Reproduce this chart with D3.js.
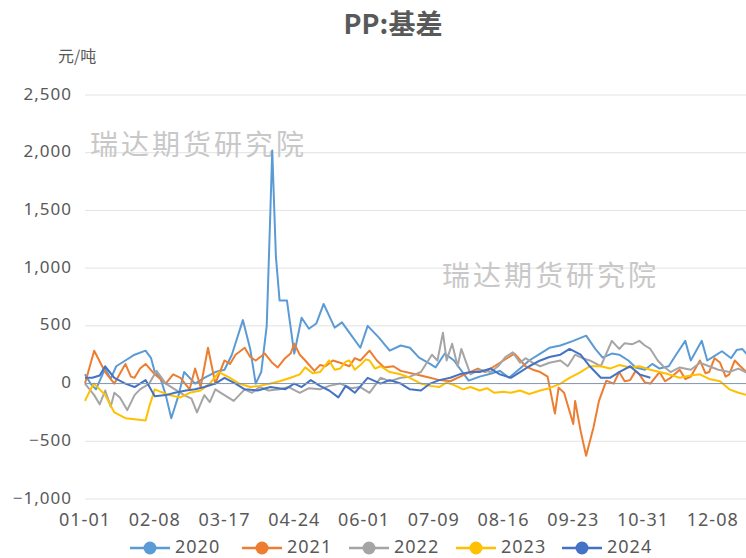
<!DOCTYPE html>
<html>
<head>
  <meta charset="utf-8">
  <script src="https://d3js.org/d3.v7.min.js"></script>
  <style>
    body {
      margin: 0;
      background: #ffffff;
      font-family: "Noto Sans CJK SC", "Noto Sans", sans-serif;
    }
    .grid line { stroke: #e3e3e3; stroke-width: 1; }
    .tick_label { fill: #595959; font-size: 17px; letter-spacing: 1px; font-family: "Noto Sans", sans-serif; }
    .watermark { fill: #c8c8c8; font-size: 28px; letter-spacing: 3px; }
  </style>
  <title>PP:基差</title>
</head>
<body>
  <svg></svg>
  <script>
    // day-of-year (leap-year calendar, 0 = 01-01) and basis value, yuan/ton
    const s2020 = [[0,80],[3,0],[6,-50],[9,60],[11,130],[14,40],[17,150],[22,200],[27,250],[33,285],[36,220],[38,100],[41,50],[44,-100],[47,-300],[51,-100],[54,100],[60,0],[65,50],[71,100],[76,120],[80,250],[86,550],[90,300],[93,0],[96,100],[99,500],[101,1500],[102,2020],[104,1100],[106,720],[110,720],[114,260],[118,570],[122,475],[126,520],[130,690],[136,485],[140,530],[145,420],[150,310],[154,500],[160,400],[166,285],[172,330],[177,310],[182,225],[188,170],[191,140],[196,260],[201,200],[209,25],[215,60],[221,85],[226,110],[231,50],[237,130],[242,200],[248,260],[253,310],[259,330],[266,370],[273,415],[278,300],[282,225],[287,260],[291,250],[296,200],[300,140],[305,120],[309,170],[313,130],[318,150],[322,250],[327,370],[330,200],[336,370],[339,200],[343,240],[347,280],[352,220],[355,290],[358,300],[362,230],[365,250]]
    const s2021 = [[0,0],[5,285],[11,100],[16,0],[22,170],[25,60],[27,50],[30,130],[33,170],[38,80],[44,0],[48,80],[52,50],[57,-50],[60,130],[63,-30],[67,310],[71,0],[76,200],[79,170],[82,250],[87,310],[90,230],[93,200],[98,260],[102,180],[105,140],[109,220],[112,260],[114,345],[117,250],[120,200],[125,110],[128,160],[131,150],[135,200],[139,180],[144,150],[147,220],[150,200],[155,285],[159,200],[163,140],[168,150],[172,110],[180,80],[188,50],[193,30],[199,20],[207,80],[214,130],[218,100],[223,150],[228,200],[234,260],[240,150],[244,120],[248,100],[252,60],[256,-260],[258,-35],[261,-80],[266,-350],[267,-150],[270,-410],[273,-625],[277,-380],[280,-150],[284,25],[288,0],[291,100],[294,20],[297,30],[300,110],[302,80],[305,10],[308,0],[313,100],[316,20],[319,50],[324,120],[327,40],[330,60],[335,200],[338,90],[340,100],[343,220],[346,180],[349,60],[351,80],[354,200],[357,150],[361,90],[365,100]]
    const s2022 = [[0,0],[5,-100],[8,-180],[11,-60],[14,-200],[16,-80],[19,-120],[23,-230],[27,-100],[30,-50],[35,0],[39,110],[44,0],[49,-50],[54,-100],[58,-130],[61,-250],[65,-100],[68,-160],[71,-50],[76,-100],[81,-150],[87,-50],[91,-80],[95,-30],[100,-60],[106,-50],[111,-30],[117,-80],[122,-40],[128,-50],[133,-20],[139,0],[145,-40],[150,-30],[155,-80],[161,50],[166,20],[172,50],[177,60],[183,100],[189,250],[192,200],[195,440],[197,200],[200,345],[203,150],[205,300],[210,80],[215,120],[221,100],[225,150],[229,230],[233,270],[237,180],[240,220],[244,180],[248,150],[253,180],[259,200],[263,150],[267,250],[271,220],[275,200],[281,150],[287,370],[291,300],[294,350],[298,340],[302,370],[305,330],[308,300],[312,200],[315,150],[319,100],[324,140],[330,120],[335,180],[340,150],[345,120],[351,100],[356,130],[361,90],[365,80]]
    const s2023 = [[0,-150],[3,-50],[5,0],[11,-100],[16,-250],[22,-300],[27,-310],[33,-320],[35,-200],[38,-50],[41,-70],[46,-100],[52,-120],[57,-80],[63,-60],[68,0],[73,100],[79,50],[84,0],[90,-30],[95,-20],[101,0],[106,20],[112,50],[117,80],[120,140],[124,90],[128,100],[133,200],[136,120],[139,130],[142,190],[144,200],[147,120],[150,160],[153,210],[155,200],[158,130],[161,150],[166,100],[172,80],[177,50],[183,0],[188,-20],[193,-30],[197,10],[202,-20],[206,-50],[210,-30],[215,-60],[219,-40],[223,-80],[228,-70],[232,-80],[237,-60],[242,-90],[248,-60],[253,-40],[259,0],[264,50],[270,100],[275,150],[281,150],[286,130],[291,160],[297,140],[302,150],[308,120],[313,100],[318,80],[324,50],[330,70],[335,80],[340,40],[346,20],[351,-50],[356,-80],[361,-100],[365,-110]]
    const s2024 = [[0,50],[4,50],[8,70],[11,150],[16,50],[22,0],[27,-30],[33,30],[38,-110],[44,-100],[49,-80],[55,-60],[60,-50],[65,-30],[71,0],[76,50],[82,0],[87,-50],[94,-60],[101,-30],[109,-50],[114,0],[118,-30],[123,30],[128,-20],[133,-60],[138,-120],[142,-20],[147,-80],[154,50],[161,0],[166,30],[172,0],[177,-50],[183,-60],[188,0],[193,30],[199,50],[204,80],[210,100],[215,100],[221,130],[226,80],[232,50],[237,100],[242,150],[248,200],[253,230],[259,250],[264,300],[270,250],[275,150],[281,50],[286,50],[291,100],[297,150],[302,80],[308,50]]

    const years = ["2020", "2021", "2022", "2023", "2024"]
    const colors = ["#5b9bd5", "#ed7d31", "#a5a5a5", "#ffc000", "#4472c4"]
    const seriesData = [s2020, s2021, s2022, s2023, s2024]

    const yTicks = [-1000, -500, 0, 500, 1000, 1500, 2000, 2500]
    const xTickDays = [0, 38, 76, 114, 152, 190, 228, 266, 304, 342]
    const xTickLabels = ["01-01", "02-08", "03-17", "04-24", "06-01", "07-09", "08-16", "09-23", "10-31", "12-08"]

    const width = 746
    const height = 558

    const svg = d3.select("svg")
      .attr("width", width)
      .attr("height", height)

    const xScale = d3.scaleLinear()
      .domain([0, 365])
      .range([85, 755])

    const yScale = d3.scaleLinear()
      .domain([-1000, 2500])
      .range([499, 95])

    // gridlines
    svg.append("g")
      .attr("class", "grid")
      .selectAll("line")
      .data(yTicks)
      .enter()
      .append("line")
      .attr("x1", xScale(0))
      .attr("x2", width)
      .attr("y1", d => yScale(d))
      .attr("y2", d => yScale(d))

    svg.selectAll(".y_label")
      .data(yTicks)
      .enter()
      .append("text")
      .attr("class", "tick_label")
      .attr("x", 72)
      .attr("y", d => yScale(d))
      .attr("text-anchor", "end")
      .attr("dominant-baseline", "middle")
      .text(d => d3.format(",")(d))

    svg.selectAll(".x_label")
      .data(xTickDays)
      .enter()
      .append("text")
      .attr("class", "tick_label")
      .attr("x", d => xScale(d))
      .attr("y", 521)
      .attr("text-anchor", "middle")
      .attr("dominant-baseline", "middle")
      .style("font-size", "18px")
      .text((d, i) => xTickLabels[i])

    // title, unit, watermarks
    svg.append("text")
      .attr("x", 393)
      .attr("y", 27)
      .attr("text-anchor", "middle")
      .attr("dominant-baseline", "middle")
      .attr("fill", "#595959")
      .style("font-size", "27px")
      .style("font-weight", "bold")
      .text("PP:基差")

    svg.append("text")
      .attr("x", 58)
      .attr("y", 58)
      .attr("dominant-baseline", "middle")
      .attr("fill", "#595959")
      .style("font-size", "16px")
      .text("元/吨")

    svg.append("text")
      .attr("class", "watermark")
      .attr("x", 90)
      .attr("y", 147)
      .attr("dominant-baseline", "middle")
      .text("瑞达期货研究院")

    svg.append("text")
      .attr("class", "watermark")
      .attr("x", 442)
      .attr("y", 278)
      .attr("dominant-baseline", "middle")
      .text("瑞达期货研究院")

    // series lines
    const line = d3.line()
      .x(d => xScale(d[0]))
      .y(d => yScale(d[1]))

    svg.selectAll(".series")
      .data(seriesData)
      .enter()
      .append("path")
      .attr("class", "series")
      .attr("fill", "none")
      .attr("stroke", (d, i) => colors[i])
      .attr("stroke-width", 2)
      .attr("stroke-linejoin", "round")
      .attr("d", line)

    // zero axis line
    svg.append("line")
      .attr("x1", xScale(0))
      .attr("x2", width)
      .attr("y1", yScale(0))
      .attr("y2", yScale(0))
      .attr("stroke", "#8497b0")
      .attr("stroke-width", 1)

    // legend
    const legendX = [130, 242, 349, 456, 562]
    const legend = svg.selectAll(".legend")
      .data(years)
      .enter()
      .append("g")
      .attr("class", "legend")
      .attr("transform", (d, i) => `translate(${legendX[i]}, 548)`)

    legend.append("line")
      .attr("x1", 0)
      .attr("x2", 40)
      .attr("stroke", (d, i) => colors[i])
      .attr("stroke-width", 2.5)

    legend.append("circle")
      .attr("cx", 20)
      .attr("r", 6.5)
      .attr("fill", (d, i) => colors[i])

    legend.append("text")
      .attr("class", "tick_label")
      .attr("x", 45)
      .attr("dominant-baseline", "middle")
      .style("font-size", "18px")
      .text(d => d)
  </script>
</body>
</html>
